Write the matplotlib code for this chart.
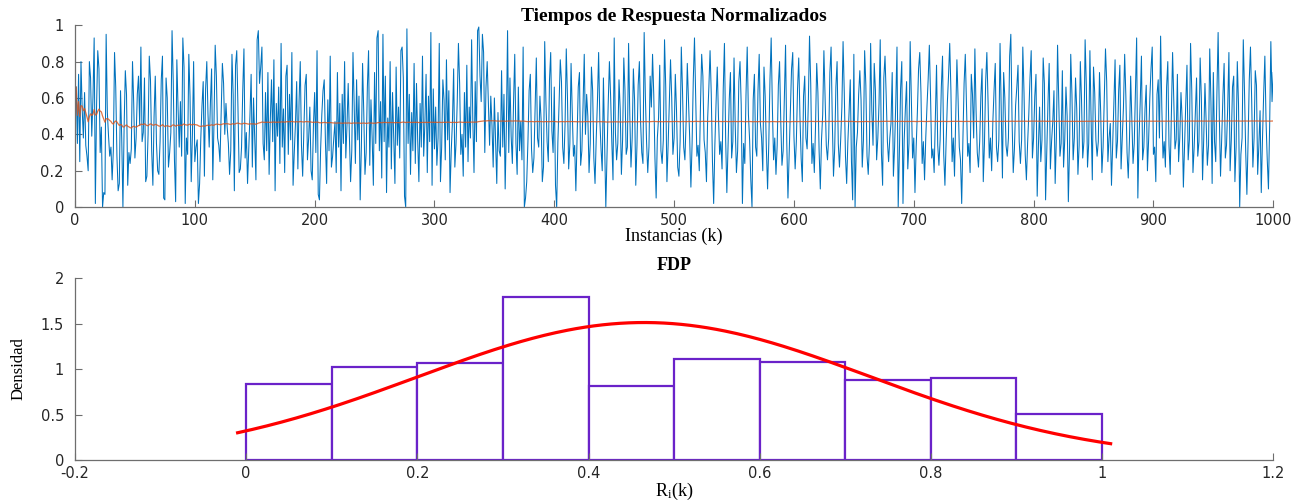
import numpy as np
import matplotlib
matplotlib.use("Agg")
import matplotlib.pyplot as plt

# Normalized response times (percent of the maximum), instances k = 1..1000
response_pct = [
    66, 35, 73, 25, 80, 54, 38, 63, 34, 28, 20, 80, 71, 39, 60, 93, 2, 55, 86, 76, 30, 44, 0, 8, 7,
    95, 52, 39, 28, 33, 15, 31, 85, 66, 28, 9, 13, 64, 38, 0, 44, 75, 62, 12, 30, 24, 32, 80, 57, 27,
    38, 62, 72, 45, 88, 36, 41, 71, 14, 17, 40, 83, 70, 31, 12, 50, 72, 35, 20, 18, 36, 70, 83, 5, 4,
    71, 60, 22, 30, 41, 97, 69, 26, 3, 81, 55, 33, 58, 28, 93, 77, 2, 38, 29, 84, 61, 14, 40, 80, 25,
    33, 37, 2, 13, 38, 56, 69, 17, 65, 80, 51, 33, 57, 76, 15, 46, 89, 72, 38, 34, 25, 52, 79, 68, 40,
    57, 44, 35, 18, 31, 84, 62, 9, 78, 86, 55, 19, 21, 33, 64, 87, 27, 41, 13, 32, 50, 73, 22, 60, 38,
    15, 92, 97, 68, 77, 88, 35, 26, 63, 31, 74, 18, 48, 70, 36, 81, 9, 57, 39, 66, 24, 90, 33, 54, 19,
    72, 78, 29, 62, 37, 85, 12, 30, 46, 69, 21, 58, 80, 34, 17, 41, 67, 73, 26, 38, 55, 20, 15, 45, 63,
    30, 86, 7, 4, 32, 51, 64, 70, 36, 13, 59, 31, 83, 22, 28, 38, 47, 19, 74, 33, 57, 9, 62, 35, 80,
    27, 45, 68, 39, 14, 31, 85, 56, 24, 70, 37, 61, 4, 33, 79, 52, 18, 30, 66, 86, 23, 59, 38, 12, 74,
    35, 93, 97, 31, 58, 16, 95, 36, 72, 8, 49, 33, 80, 21, 63, 38, 13, 77, 34, 55, 27, 86, 88, 71, 6,
    0, 98, 35, 62, 18, 52, 31, 79, 24, 68, 37, 14, 57, 33, 83, 28, 46, 73, 19, 61, 36, 96, 12, 65, 32,
    55, 23, 38, 90, 14, 33, 70, 59, 26, 81, 37, 64, 8, 31, 47, 76, 22, 35, 58, 90, 68, 29, 40, 17, 63,
    33, 78, 25, 55, 38, 92, 48, 19, 69, 36, 97, 99, 72, 58, 95, 85, 30, 66, 80, 56, 34, 61, 45, 22, 60,
    37, 13, 52, 31, 28, 75, 33, 62, 10, 44, 97, 30, 71, 39, 24, 58, 84, 35, 18, 66, 31, 47, 26, 88, 0,
    5, 14, 36, 64, 73, 32, 19, 27, 55, 82, 38, 33, 61, 48, 14, 22, 91, 58, 36, 25, 70, 85, 42, 30, 66,
    12, 0, 36, 57, 81, 69, 33, 24, 46, 87, 60, 21, 35, 79, 52, 28, 34, 9, 38, 66, 74, 23, 31, 56, 84,
    40, 62, 50, 19, 35, 77, 64, 27, 13, 38, 58, 85, 48, 32, 20, 71, 34, 0, 29, 57, 80, 61, 36, 15, 93,
    41, 26, 35, 70, 54, 18, 37, 82, 64, 29, 33, 90, 51, 22, 38, 76, 59, 12, 34, 67, 80, 47, 30, 24, 96,
    61, 36, 19, 33, 72, 55, 84, 62, 27, 5, 38, 49, 78, 31, 24, 37, 92, 66, 14, 34, 57, 81, 60, 29, 38,
    73, 53, 22, 17, 36, 88, 64, 33, 26, 47, 79, 58, 38, 11, 35, 70, 93, 61, 28, 34, 20, 56, 84, 72, 37,
    30, 14, 49, 66, 86, 62, 25, 2, 34, 57, 77, 50, 29, 36, 21, 65, 90, 38, 8, 33, 59, 74, 27, 36, 82,
    45, 19, 31, 69, 80, 56, 2, 35, 24, 62, 88, 51, 37, 15, 0, 59, 73, 33, 28, 64, 84, 46, 38, 20, 77,
    61, 32, 10, 35, 70, 93, 55, 26, 38, 18, 34, 67, 80, 47, 23, 31, 60, 89, 36, 5, 29, 54, 76, 85, 39,
    21, 36, 65, 82, 50, 27, 14, 61, 72, 38, 32, 57, 94, 68, 24, 35, 19, 44, 79, 63, 31, 10, 37, 51, 86,
    59, 34, 26, 38, 74, 88, 48, 17, 32, 66, 80, 35, 22, 37, 55, 91, 63, 28, 13, 36, 52, 70, 25, 4, 84,
    0, 33, 41, 62, 75, 59, 22, 37, 86, 67, 28, 18, 35, 90, 53, 34, 79, 64, 26, 38, 57, 92, 30, 12, 71,
    83, 61, 36, 25, 38, 46, 74, 17, 33, 58, 88, 0, 30, 65, 80, 2, 37, 54, 69, 21, 35, 91, 60, 27, 38,
    8, 33, 52, 76, 85, 63, 24, 36, 15, 38, 55, 70, 89, 61, 27, 32, 19, 48, 78, 34, 23, 37, 66, 83, 29,
    12, 36, 57, 72, 90, 64, 25, 38, 17, 50, 81, 59, 33, 26, 2, 37, 68, 84, 55, 28, 35, 19, 73, 62, 38,
    87, 53, 30, 22, 36, 61, 76, 14, 35, 69, 85, 58, 27, 38, 20, 47, 64, 79, 33, 25, 37, 90, 52, 16, 74,
    60, 34, 28, 38, 83, 95, 49, 19, 32, 56, 66, 78, 36, 24, 37, 88, 63, 29, 15, 35, 51, 71, 86, 27, 38,
    61, 73, 6, 33, 55, 25, 37, 82, 68, 4, 31, 57, 79, 21, 36, 47, 64, 13, 38, 89, 58, 28, 35, 75, 22,
    37, 66, 50, 3, 32, 84, 62, 26, 38, 71, 54, 18, 34, 80, 59, 27, 36, 92, 67, 22, 35, 86, 48, 15, 77,
    63, 37, 28, 36, 74, 52, 19, 33, 60, 87, 69, 25, 38, 46, 12, 34, 57, 81, 27, 36, 64, 78, 21, 38, 55,
    84, 61, 30, 16, 37, 72, 49, 24, 35, 65, 93, 5, 38, 58, 83, 26, 33, 54, 67, 20, 37, 60, 76, 88, 29,
    33, 14, 62, 70, 38, 94, 55, 27, 36, 22, 66, 80, 34, 18, 51, 85, 59, 32, 37, 73, 25, 38, 63, 48, 11,
    35, 57, 78, 26, 37, 90, 64, 19, 33, 52, 71, 28, 36, 82, 60, 15, 38, 68, 47, 23, 34, 87, 58, 13, 74,
    36, 25, 63, 96, 50, 17, 38, 61, 79, 27, 34, 55, 85, 20, 37, 66, 72, 14, 33, 80, 57, 0, 29, 38, 92,
    64, 31, 7, 36, 70, 88, 59, 22, 38, 75, 67, 18, 34, 53, 8, 37, 62, 83, 47, 26, 10, 45, 91, 58, 74,
]

# Probability density histogram of R_i(k)
bin_edges = [0.0, 0.1, 0.2, 0.3, 0.4, 0.5, 0.6, 0.7, 0.8, 0.9, 1.0]
bin_density = [0.83, 1.02, 1.07, 1.79, 0.81, 1.11, 1.08, 0.88, 0.90, 0.51]

# Fitted normal distribution
fit_mu = 0.465
fit_sigma = 0.264
fit_range = (-0.01, 1.01)

r = np.array(response_pct) / 100.0
k = np.arange(1, len(r) + 1)
running_mean = np.cumsum(r) / k

plt.rcParams["mathtext.fontset"] = "custom"
plt.rcParams["mathtext.rm"] = "Liberation Serif"
plt.rcParams["mathtext.it"] = "Liberation Serif:italic"

fig = plt.figure(figsize=(13.11, 5.04), dpi=100)
ax1 = fig.add_axes([0.0572, 0.589, 0.914, 0.361])
ax2 = fig.add_axes([0.0572, 0.0873, 0.914, 0.361])

spine_col = "#6e6e6e"
serif = "Liberation Serif"


def style(ax):
    for s in ("top", "right"):
        ax.spines[s].set_visible(False)
    for s in ("left", "bottom"):
        ax.spines[s].set_color(spine_col)
        ax.spines[s].set_linewidth(0.9)
    ax.tick_params(direction="in", length=5, width=0.8, color=spine_col,
                   labelsize=10.5, labelcolor="#262626")
    ax.tick_params(axis="x", pad=4)
    ax.tick_params(axis="y", pad=8)
    for lab in ax.get_xticklabels() + ax.get_yticklabels():
        lab.set_family("DejaVu Sans")


# Top panel: time series and cumulative mean
ax1.plot(k, r, color="#0072BD", lw=0.75)
ax1.plot(k, running_mean, color="#D95319", lw=0.9, alpha=0.8)
ax1.set_xlim(0, 1000)
ax1.set_ylim(0, 1)
ax1.set_xticks(np.arange(0, 1001, 100))
ax1.set_yticks([0, 0.2, 0.4, 0.6, 0.8, 1.0])
ax1.set_yticklabels(["0", "0.2", "0.4", "0.6", "0.8", "1"])
style(ax1)
ax1.set_title("Tiempos de Respuesta Normalizados", family=serif, weight="bold",
              size=14, pad=1)
ax1.set_xlabel("Instancias (k)", family=serif, size=13, labelpad=0)

# Bottom panel: histogram and normal fit
widths = np.diff(bin_edges)
ax2.bar(bin_edges[:-1], bin_density, width=widths, align="edge",
        facecolor="white", edgecolor="#6a22c9", linewidth=1.6)
xs = np.linspace(fit_range[0], fit_range[1], 300)
pdf = np.exp(-0.5 * ((xs - fit_mu) / fit_sigma) ** 2) / (fit_sigma * np.sqrt(2 * np.pi))
ax2.plot(xs, pdf, color="red", lw=2.3)
ax2.set_xlim(-0.2, 1.2)
ax2.set_ylim(0, 2)
ax2.set_xticks([-0.2, 0, 0.2, 0.4, 0.6, 0.8, 1.0, 1.2])
ax2.set_xticklabels(["-0.2", "0", "0.2", "0.4", "0.6", "0.8", "1", "1.2"])
ax2.set_yticks([0, 0.5, 1, 1.5, 2])
ax2.set_yticklabels(["0", "0.5", "1", "1.5", "2"])
style(ax2)
ax2.set_title("FDP", family=serif, weight="bold", size=13, pad=6)
ax2.set_xlabel(r"R$_{\rm i}$(k)", family=serif, size=13, labelpad=0)
ax2.set_ylabel("Densidad", family=serif, size=12, labelpad=10)

fig.savefig("out.png", dpi=100)
